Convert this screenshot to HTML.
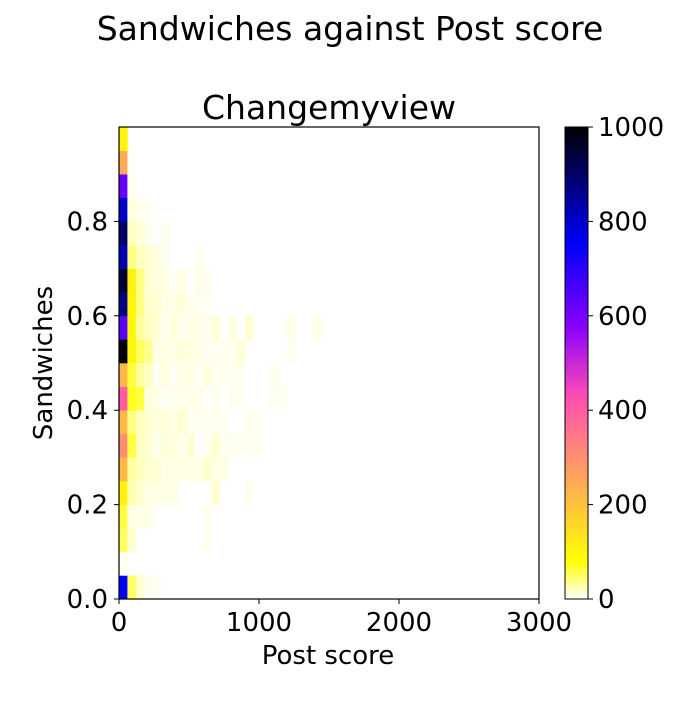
<!DOCTYPE html>
<html><head><meta charset="utf-8"><style>
body{margin:0;background:#fff;}
svg text{font-family:"DejaVu Sans","Liberation Sans",sans-serif;fill:#000;}
</style></head><body>
<svg id="c" width="700" height="700" xmlns="http://www.w3.org/2000/svg">
<defs><linearGradient id="cbg" x1="0" y1="1" x2="0" y2="0"></linearGradient></defs>
<text x="350" y="40" font-size="33" text-anchor="middle">Sandwiches against Post score</text>
<text x="329" y="119" font-size="33" text-anchor="middle">Changemyview</text>
<g id="cells"></g>
<rect x="119" y="127" width="420" height="472" fill="none" stroke="#000" stroke-width="1.2"/>
<g id="axes"></g>
<text x="328" y="664" font-size="26" text-anchor="middle">Post score</text>
<text transform="translate(52,363) rotate(-90)" font-size="26" text-anchor="middle">Sandwiches</text>
<rect x="565" y="127" width="23" height="472" fill="url(#cbg)"/>
<rect x="565" y="127" width="23" height="472" fill="none" stroke="#000" stroke-width="1"/>
<g id="cbaxis"></g>
</svg>
<script>
const yBins = [0,0.05,0.1,0.15,0.2,0.25,0.3,0.35,0.4,0.45,0.5,0.55,0.6,0.65,0.7,0.75,0.8,0.85,0.9,0.95];
const binWidth = 60;
const counts = [
[750,50,15,5,5],
[5],
[50,15,0,0,0,0,0,0,0,0,5],
[60,8,8,8,0,0,0,0,0,0,5],
[100,25,15,8,8,8,8,0,0,0,0,15,0,0,0,5],
[220,30,20,15,15,8,8,8,8,8,15,8,8],
[300,60,20,15,5,12,12,5,15,0,5,15,5,5,5,5,5],
[220,40,20,15,10,12,8,15,5,5,5,5,5,0,0,5,5],
[400,70,60,10,8,3,6,6,6,6,0,5,0,5,5,0,0,0,5,5],
[220,60,30,20,3,10,3,8,8,3,10,5,5,5,5,0,0,0,5],
[1000,100,50,35,8,8,8,12,10,8,5,5,5,5,12,0,0,0,0,0,5],
[640,100,30,20,15,3,12,5,8,8,5,12,0,8,0,15,0,0,0,0,8,0,0,8],
[870,100,40,15,15,8,8,12,5,5,3],
[950,110,40,15,10,10,3,8,0,8,5],
[820,40,20,15,10,5,0,0,0,5],
[900,20,12,5,0,5],
[800,12,5,5],
[620,5],
[250,3],
[100]
];
const xTicks = [0,1000,2000,3000];
const yTicks = [0.0,0.2,0.4,0.6,0.8];
const cbTicks = [0,200,400,600,800,1000];
const vmax = 1000;

const X0=119,X1=539,Y0=599,Y1=127;
const xs = v => X0 + (v/3000)*(X1-X0);
const ys = v => Y0 - v*(Y0-Y1);
function cmap(val){
  const x = 1 - Math.min(Math.max(val/vmax,0),1);
  const cl = t => Math.max(0,Math.min(1,t));
  const r = cl(x/0.32-0.78125), g = cl(2*x-0.84);
  let b = x<0.25?4*x:(x<0.42?1:(x<0.92?-2*x+1.84:x/0.08-11.5));
  b = cl(b);
  return `rgb(${Math.round(r*255)},${Math.round(g*255)},${Math.round(b*255)})`;
}
const NS="http://www.w3.org/2000/svg";
const cells=document.getElementById('cells');
counts.forEach((row,i)=>{
  row.forEach((v,j)=>{
    if(!v) return;
    const r=document.createElementNS(NS,'rect');
    const xa=xs(j*binWidth), xb=xs((j+1)*binWidth);
    const ya=ys(yBins[i]+0.05), yb=ys(yBins[i]);
    r.setAttribute('x',xa);r.setAttribute('y',ya);
    r.setAttribute('width',xb-xa+0.3);r.setAttribute('height',yb-ya+0.3);
    r.setAttribute('fill',cmap(v));
    
    
    cells.appendChild(r);
  });
});
const axes=document.getElementById('axes');
xTicks.forEach(t=>{
  const x=xs(t);
  const l=document.createElementNS(NS,'line');
  l.setAttribute('x1',x);l.setAttribute('x2',x);l.setAttribute('y1',599);l.setAttribute('y2',604);l.setAttribute('stroke','#000');
  
  
  axes.appendChild(l);
  const tx=document.createElementNS(NS,'text');
  tx.setAttribute('x',x);tx.setAttribute('y',631);tx.setAttribute('font-size','26');tx.setAttribute('text-anchor','middle');
  tx.textContent=t;
  
  
  axes.appendChild(tx);
});
yTicks.forEach(t=>{
  const y=ys(t);
  const l=document.createElementNS(NS,'line');
  l.setAttribute('x1',114);l.setAttribute('x2',119);l.setAttribute('y1',y);l.setAttribute('y2',y);l.setAttribute('stroke','#000');
  
  
  axes.appendChild(l);
  const tx=document.createElementNS(NS,'text');
  tx.setAttribute('x',108);tx.setAttribute('y',y+9);tx.setAttribute('font-size','26');tx.setAttribute('text-anchor','end');
  tx.textContent=t.toFixed(1);
  
  
  axes.appendChild(tx);
});
const grad=document.getElementById('cbg');
for(let k=0;k<=50;k++){
  const s=document.createElementNS(NS,'stop');
  s.setAttribute('offset',(k/50));
  s.setAttribute('stop-color',cmap(k/50*vmax));
  grad.appendChild(s);
}
const cb=document.getElementById('cbaxis');
cbTicks.forEach(t=>{
  const y=599-(t/vmax)*472;
  const l=document.createElementNS(NS,'line');
  l.setAttribute('x1',588);l.setAttribute('x2',593);l.setAttribute('y1',y);l.setAttribute('y2',y);l.setAttribute('stroke','#000');
  
  
  cb.appendChild(l);
  const tx=document.createElementNS(NS,'text');
  tx.setAttribute('x',598);tx.setAttribute('y',y+9);tx.setAttribute('font-size','26');
  tx.textContent=t;
  
  
  cb.appendChild(tx);
});
</script>
</body></html>
